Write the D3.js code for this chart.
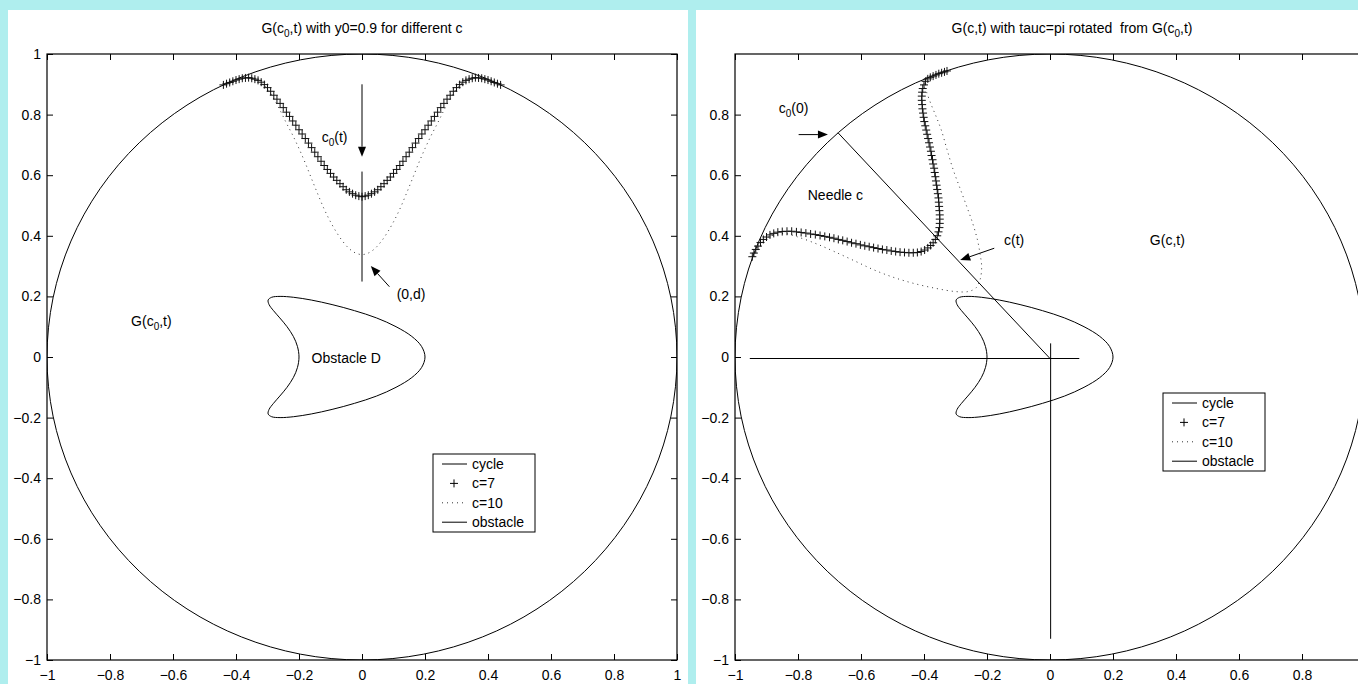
<!DOCTYPE html>
<html>
<head>
<meta charset="utf-8">
<script src="https://cdnjs.cloudflare.com/ajax/libs/d3/7.8.5/d3.min.js"></script>
<style>
body{margin:0;background:#afeeee;}
svg{display:block;}
text{font-family:"Liberation Sans",Arial,Helvetica,sans-serif;font-size:14px;fill:#000;}
</style>
</head>
<body>
<div id="chart"></div>
<script>
// tick values, same on both axes of both plots
var xTicks = [-1, -0.8, -0.6, -0.4, -0.2, 0, 0.2, 0.4, 0.6, 0.8, 1];
var yTicks = [-1, -0.8, -0.6, -0.4, -0.2, 0, 0.2, 0.4, 0.6, 0.8, 1];

var legendNames = ["cycle", "c=7", "c=10", "obstacle"];
var cycleRadius = 1;

// obstacle D (kite shaped)
var obstacleX = [0.200, 0.189, 0.158, 0.108, 0.046, -0.024, -0.095, -0.161, -0.217, -0.260, -0.287, -0.298,
                 -0.295, -0.281, -0.261, -0.238, -0.218, -0.205, -0.200, -0.205, -0.218, -0.238, -0.261, -0.281,
                 -0.295, -0.298, -0.287, -0.260, -0.217, -0.161, -0.095, -0.024, 0.046, 0.108, 0.158, 0.189];
var obstacleY = [0.000, 0.035, 0.068, 0.100, 0.129, 0.153, 0.173, 0.188, 0.197, 0.200, 0.197, 0.188,
                 0.173, 0.153, 0.129, 0.100, 0.068, 0.035, 0.000, -0.035, -0.068, -0.100, -0.129, -0.153,
                 -0.173, -0.188, -0.197, -0.200, -0.197, -0.188, -0.173, -0.153, -0.129, -0.100, -0.068, -0.035];

// left plot: c=7 (markers) and c=10 (dotted)
var c7LeftX = [-0.44, -0.43, -0.42, -0.41, -0.40, -0.39, -0.38, -0.37, -0.36, -0.35, -0.34, -0.33, -0.32, -0.31, -0.30,
               -0.29, -0.28, -0.27, -0.26, -0.25, -0.24, -0.23, -0.22, -0.21, -0.20, -0.19, -0.18, -0.17, -0.16, -0.15,
               -0.14, -0.13, -0.12, -0.11, -0.10, -0.09, -0.08, -0.07, -0.06, -0.05, -0.04, -0.03, -0.02, -0.01, 0,
               0.01, 0.02, 0.03, 0.04, 0.05, 0.06, 0.07, 0.08, 0.09, 0.10, 0.11, 0.12, 0.13, 0.14, 0.15,
               0.16, 0.17, 0.18, 0.19, 0.20, 0.21, 0.22, 0.23, 0.24, 0.25, 0.26, 0.27, 0.28, 0.29, 0.30,
               0.31, 0.32, 0.33, 0.34, 0.35, 0.36, 0.37, 0.38, 0.39, 0.40, 0.41, 0.42, 0.43, 0.44];
var c7LeftY = [0.898, 0.902, 0.906, 0.910, 0.914, 0.917, 0.920, 0.921, 0.922, 0.920, 0.917, 0.913, 0.907, 0.899, 0.889,
               0.877, 0.864, 0.851, 0.837, 0.823, 0.808, 0.794, 0.779, 0.765, 0.750, 0.736, 0.721, 0.706, 0.691, 0.676,
               0.661, 0.646, 0.632, 0.619, 0.606, 0.594, 0.583, 0.572, 0.562, 0.552, 0.545, 0.539, 0.534, 0.531, 0.529,
               0.531, 0.534, 0.539, 0.545, 0.552, 0.562, 0.572, 0.583, 0.594, 0.606, 0.619, 0.632, 0.646, 0.661, 0.676,
               0.691, 0.706, 0.721, 0.736, 0.750, 0.765, 0.779, 0.794, 0.808, 0.823, 0.837, 0.851, 0.864, 0.877, 0.889,
               0.899, 0.907, 0.913, 0.917, 0.920, 0.922, 0.921, 0.920, 0.917, 0.914, 0.910, 0.906, 0.902, 0.898];
var c10LeftX = [-0.44, -0.40, -0.36, -0.32, -0.30, -0.28, -0.26, -0.24, -0.22, -0.20, -0.18, -0.16, -0.14, -0.12, -0.10,
                -0.08, -0.06, -0.04, -0.02, 0, 0.02, 0.04, 0.06, 0.08, 0.10, 0.12, 0.14, 0.16, 0.18, 0.20,
                0.22, 0.24, 0.26, 0.28, 0.30, 0.32, 0.36, 0.40, 0.44];
var c10LeftY = [0.898, 0.914, 0.921, 0.906, 0.885, 0.852, 0.814, 0.772, 0.732, 0.688, 0.640, 0.588, 0.537, 0.488, 0.446,
                0.410, 0.380, 0.357, 0.343, 0.338, 0.343, 0.357, 0.380, 0.410, 0.446, 0.488, 0.537, 0.588, 0.640, 0.688,
                0.732, 0.772, 0.814, 0.852, 0.885, 0.906, 0.921, 0.914, 0.898];

// right plot: c=7 (markers) and c=10 (dotted)
var c7RightX = [-0.945, -0.940, -0.934, -0.927, -0.919, -0.910, -0.900, -0.889, -0.877, -0.864, -0.850, -0.835, -0.820,
                -0.805, -0.790, -0.775, -0.760, -0.745, -0.730, -0.715, -0.700, -0.686, -0.672, -0.658, -0.644, -0.630,
                -0.616, -0.602, -0.588, -0.574, -0.560, -0.546, -0.532, -0.518, -0.504, -0.490, -0.476, -0.462, -0.448,
                -0.434, -0.421, -0.409, -0.398, -0.388, -0.379, -0.371, -0.364, -0.358, -0.354, -0.351, -0.350, -0.350,
                -0.350, -0.351, -0.352, -0.353, -0.354, -0.356, -0.358, -0.360, -0.362, -0.364, -0.366, -0.368, -0.371,
                -0.373, -0.376, -0.378, -0.381, -0.384, -0.387, -0.390, -0.393, -0.396, -0.399, -0.401, -0.403, -0.405,
                -0.406, -0.407, -0.407, -0.406, -0.404, -0.400, -0.395, -0.388, -0.380, -0.371, -0.362, -0.353, -0.344,
                -0.335, -0.327];
var c7RightY = [0.331, 0.343, 0.355, 0.366, 0.378, 0.388, 0.396, 0.403, 0.408, 0.412, 0.414, 0.415, 0.415,
                0.413, 0.411, 0.409, 0.406, 0.404, 0.401, 0.398, 0.395, 0.392, 0.388, 0.385, 0.381, 0.377,
                0.374, 0.370, 0.367, 0.364, 0.361, 0.358, 0.355, 0.353, 0.350, 0.348, 0.346, 0.345, 0.344,
                0.344, 0.345, 0.348, 0.353, 0.360, 0.368, 0.377, 0.388, 0.400, 0.413, 0.427, 0.441, 0.455,
                0.469, 0.483, 0.497, 0.511, 0.525, 0.539, 0.553, 0.567, 0.581, 0.595, 0.609, 0.623, 0.637,
                0.651, 0.665, 0.679, 0.693, 0.707, 0.721, 0.735, 0.749, 0.763, 0.777, 0.791, 0.805, 0.819,
                0.833, 0.847, 0.861, 0.874, 0.886, 0.898, 0.910, 0.918, 0.923, 0.927, 0.931, 0.935, 0.938,
                0.941, 0.944];
var c10RightX = [-0.945, -0.92, -0.88, -0.84, -0.80, -0.74, -0.687, -0.62, -0.56, -0.50, -0.433, -0.36, -0.30, -0.26,
                 -0.235, -0.222, -0.217, -0.222, -0.230, -0.245, -0.264, -0.285, -0.307, -0.327, -0.345, -0.362,
                 -0.378, -0.392, -0.400, -0.390, -0.360, -0.327];
var c10RightY = [0.331, 0.375, 0.402, 0.407, 0.396, 0.373, 0.349, 0.317, 0.288, 0.264, 0.243, 0.226, 0.216, 0.216,
                 0.228, 0.255, 0.298, 0.340, 0.385, 0.440, 0.496, 0.555, 0.617, 0.685, 0.749, 0.795,
                 0.835, 0.875, 0.900, 0.918, 0.932, 0.944];

// straight segments
var leftNeedleX = [0, 0], leftNeedleY = [0.612, 0.249];
var needleX = [-0.673, 0], needleY = [0.740, -0.005];
var baseX = [-0.953, 0.093], baseY = [-0.005, -0.005];
var poleX = [0.002, 0.002], poleY = [0.045, -0.93];

var svgWidth = 1358;
var svgHeight = 684;
var plotTop = 54, plotBottom = 660;

var svg = d3.select("#chart")
            .append("svg")
            .attr("width", svgWidth)
            .attr("height", svgHeight);

svg.append("rect")
   .attr("width", svgWidth)
   .attr("height", svgHeight)
   .attr("fill", "#afeeee");

function makePanel(id, left, right, axLeft, axRight) {
    svg.append("rect")
       .attr("x", left).attr("y", 10)
       .attr("width", right - left).attr("height", svgHeight)
       .attr("fill", "#fff");

    var x = d3.scaleLinear().domain([-1, 1]).range([axLeft, axRight]);
    var y = d3.scaleLinear().domain([-1, 1]).range([plotBottom, plotTop]);
    var fmt = d3.format("");

    var g = svg.append("g");
    g.append("g")
     .attr("transform", `translate(0,${plotBottom})`)
     .call(d3.axisBottom(x).tickValues(xTicks).tickSizeInner(-6).tickSizeOuter(0).tickPadding(10).tickFormat(fmt));
    g.append("g")
     .attr("transform", `translate(0,${plotTop})`)
     .call(d3.axisTop(x).tickValues(xTicks).tickSizeInner(-6).tickSizeOuter(0).tickFormat(""));
    g.append("g")
     .attr("transform", `translate(${axLeft},0)`)
     .call(d3.axisLeft(y).tickValues(yTicks).tickSizeInner(-6).tickSizeOuter(0).tickPadding(6).tickFormat(fmt));
    g.append("g")
     .attr("transform", `translate(${axRight},0)`)
     .call(d3.axisRight(y).tickValues(yTicks).tickSizeInner(-6).tickSizeOuter(0).tickFormat(""));
    g.selectAll(".tick text").style("font-size", "14px").style("font-family", null);
    g.selectAll(".tick line").attr("stroke", "#000");
    g.selectAll(".domain").remove();
    // labels that fall past the page edge are not shown
    g.selectAll(".tick").filter(d => x(d) > svgWidth).remove();

    g.append("rect")
     .attr("x", axLeft).attr("y", plotTop)
     .attr("width", axRight - axLeft).attr("height", plotBottom - plotTop)
     .attr("fill", "none").attr("stroke", "#000").attr("stroke-width", 1.2);

    svg.append("clipPath").attr("id", id)
       .append("rect")
       .attr("x", axLeft).attr("y", plotTop)
       .attr("width", axRight - axLeft).attr("height", plotBottom - plotTop);

    var plot = svg.append("g").attr("clip-path", `url(#${id})`);
    return {x: x, y: y, plot: plot, g: svg.append("g")};
}

function drawCommon(p, c7X, c7Y, c10X, c10Y) {
    var line = d3.line().x(d => p.x(d[0])).y(d => p.y(d[1]));

    p.plot.append("ellipse")
          .attr("cx", p.x(0)).attr("cy", p.y(0))
          .attr("rx", p.x(cycleRadius) - p.x(0)).attr("ry", p.y(0) - p.y(cycleRadius))
          .attr("fill", "none").attr("stroke", "#000").attr("stroke-width", 1);

    p.plot.append("path")
          .datum(d3.zip(obstacleX, obstacleY))
          .attr("d", line.curve(d3.curveCatmullRomClosed))
          .attr("fill", "none").attr("stroke", "#000").attr("stroke-width", 1);

    p.plot.append("path")
          .datum(d3.zip(c10X, c10Y))
          .attr("d", line.curve(d3.curveCatmullRom))
          .attr("fill", "none").attr("stroke", "#333").attr("stroke-width", 1)
          .attr("stroke-dasharray", "1,4");

    p.plot.append("path")
          .attr("d", d3.zip(c7X, c7Y).map(function(d) {
              var px = p.x(d[0]), py = p.y(d[1]);
              return `M${px - 4},${py}h8M${px},${py - 4}v8`;
          }).join(""))
          .attr("fill", "none").attr("stroke", "#111").attr("stroke-width", 1);
}

function segment(p, xs, ys) {
    p.plot.append("line")
          .attr("x1", p.x(xs[0])).attr("y1", p.y(ys[0]))
          .attr("x2", p.x(xs[1])).attr("y2", p.y(ys[1]))
          .attr("stroke", "#000").attr("stroke-width", 1);
}

function arrow(p, x1, y1, x2, y2) {
    var ax = p.x(x1), ay = p.y(y1), bx = p.x(x2), by = p.y(y2);
    var ang = Math.atan2(by - ay, bx - ax);
    var len = 10, w = 4;
    var hx = bx - len * Math.cos(ang), hy = by - len * Math.sin(ang);
    p.g.append("line")
       .attr("x1", ax).attr("y1", ay).attr("x2", hx).attr("y2", hy)
       .attr("stroke", "#000").attr("stroke-width", 1);
    p.g.append("path")
       .attr("d", `M${bx},${by}L${hx - w * Math.sin(ang)},${hy + w * Math.cos(ang)}L${hx + w * Math.sin(ang)},${hy - w * Math.cos(ang)}Z`)
       .attr("fill", "#000");
}

// text with TeX-like subscripts: parts alternate normal / subscript
function label(p, xv, yv, parts) {
    var t = p.g.append("text").attr("x", p.x(xv)).attr("y", p.y(yv));
    parts.forEach(function(s, i) {
        var sub = i % 2 == 1;
        var ts = t.append("tspan").text(s);
        if (sub) ts.attr("dy", 4).style("font-size", "10px");
        else if (i > 0) ts.attr("dy", -4);
    });
}

function legend(p, left, top) {
    var lg = p.g.append("g").attr("transform", `translate(${left},${top})`);
    lg.append("rect").attr("width", 102).attr("height", 78)
      .attr("fill", "#fff").attr("stroke", "#000").attr("stroke-width", 1);
    legendNames.forEach(function(name, i) {
        var cy = 10 + i * 19.4;
        if (i == 1) {
            lg.append("path").attr("d", `M17,${cy}h8M21,${cy - 4}v8`)
              .attr("stroke", "#000").attr("stroke-width", 1);
        } else {
            lg.append("line").attr("x1", 9).attr("x2", 34).attr("y1", cy).attr("y2", cy)
              .attr("stroke", i == 2 ? "#333" : "#000").attr("stroke-width", 1)
              .attr("stroke-dasharray", i == 2 ? "1,4" : null);
        }
        lg.append("text").attr("x", 39).attr("y", cy + 5).text(name);
    });
}

// left plot
var pl = makePanel("clipL", 8, 688, 47, 677);
drawCommon(pl, c7LeftX, c7LeftY, c10LeftX, c10LeftY);
segment(pl, leftNeedleX, leftNeedleY);
arrow(pl, 0, 0.9, 0, 0.661);
arrow(pl, 0.087, 0.232, 0.028, 0.300);
label(pl, -0.128, 0.71, ["c", "0", "(t)"]);
label(pl, 0.11, 0.193, ["(0,d)"]);
label(pl, -0.733, 0.102, ["G(c", "0", ",t)"]);
label(pl, -0.16, -0.02, ["Obstacle D"]);
legend(pl, 433, 454);
pl.g.append("text").attr("x", pl.x(0)).attr("y", 33).attr("text-anchor", "middle")
    .call(t => { t.append("tspan").text("G(c"); t.append("tspan").attr("dy", 4).style("font-size", "10px").text("0");
                 t.append("tspan").attr("dy", -4).text(",t) with y0=0.9 for different c"); });

// right plot
var pr = makePanel("clipR", 696, 1376, 735, 1365);
drawCommon(pr, c7RightX, c7RightY, c10RightX, c10RightY);
segment(pr, needleX, needleY);
segment(pr, baseX, baseY);
segment(pr, poleX, poleY);
arrow(pr, -0.798, 0.734, -0.705, 0.734);
arrow(pr, -0.177, 0.359, -0.285, 0.320);
label(pr, -0.861, 0.806, ["c", "0", "(0)"]);
label(pr, -0.769, 0.518, ["Needle c"]);
label(pr, -0.146, 0.370, ["c(t)"]);
label(pr, 0.317, 0.370, ["G(c,t)"]);
legend(pr, 1163, 393);
pr.g.append("text").attr("x", pr.x(0.07)).attr("y", 33).attr("text-anchor", "middle")
    .call(t => { t.append("tspan").text("G(c,t) with tauc=pi rotated\u00a0 from G(c"); t.append("tspan").attr("dy", 4).style("font-size", "10px").text("0");
                 t.append("tspan").attr("dy", -4).text(",t)"); });
</script>
</body>
</html>
